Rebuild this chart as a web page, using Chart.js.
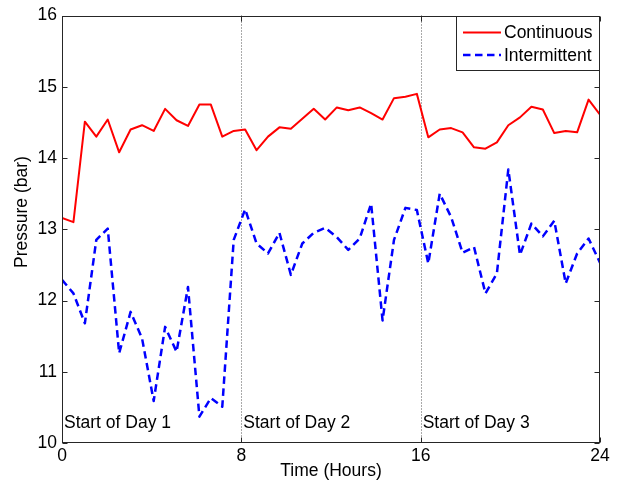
<!DOCTYPE html>
<html>
<head>
<meta charset="utf-8">
<title>Pressure (bar)</title>
<script src="https://cdn.jsdelivr.net/npm/chart.js@4/dist/chart.umd.min.js"></script>
<style>
  html, body { margin: 0; padding: 0; background: #ffffff; }
  #wrap { width: 618px; height: 483px; }
</style>
</head>
<body>
<div id="wrap"><canvas id="chart" width="618" height="483"></canvas></div>
<script>
// Sample times (hours) over three working days
const timeHours = [
  0, 0.51, 1.02, 1.53, 2.04, 2.55, 3.06, 3.57, 4.09, 4.60, 5.11, 5.62, 6.13, 6.64, 7.15, 7.66,
  8.17, 8.68, 9.19, 9.70, 10.21, 10.72, 11.23, 11.74, 12.26, 12.77, 13.28, 13.79, 14.30, 14.81, 15.32, 15.83,
  16.34, 16.85, 17.36, 17.87, 18.38, 18.89, 19.40, 19.91, 20.43, 20.94, 21.45, 21.96, 22.47, 22.98, 23.49, 24
];

// Pressure (bar) with continuous operation
const continuousBar = [
  13.16, 13.10, 14.51, 14.30, 14.54, 14.08, 14.40, 14.46, 14.38, 14.69, 14.53, 14.45, 14.75, 14.75, 14.30, 14.38,
  14.40, 14.11, 14.30, 14.43, 14.41, 14.55, 14.69, 14.54, 14.71, 14.67, 14.71, 14.63, 14.54, 14.84, 14.86, 14.90,
  14.29, 14.40, 14.42, 14.36, 14.15, 14.13, 14.22, 14.46, 14.57, 14.72, 14.68, 14.35, 14.38, 14.36, 14.82, 14.61
];

// Pressure (bar) with intermittent operation
const intermittentBar = [
  12.29, 12.10, 11.68, 12.85, 13.01, 11.26, 11.84, 11.47, 10.59, 11.63, 11.28, 12.19, 10.37, 10.63, 10.51, 12.85,
  13.28, 12.80, 12.66, 12.95, 12.36, 12.80, 12.95, 13.02, 12.89, 12.71, 12.87, 13.36, 11.72, 12.85, 13.30, 13.27,
  12.52, 13.50, 13.17, 12.67, 12.75, 12.10, 12.38, 13.84, 12.64, 13.08, 12.90, 13.12, 12.24, 12.66, 12.87, 12.53
];

const seriesNames = ['Continuous', 'Intermittent'];
const xTicks = [0, 8, 16, 24];
const yTicks = [10, 11, 12, 13, 14, 15, 16];
const dayStarts = [0, 8, 16];
const dayLabels = ['Start of Day 1', 'Start of Day 2', 'Start of Day 3'];

const FONT = 'Liberation Sans, Arial, Helvetica, sans-serif';
const FSIZE = 17.5;
const RED = '#ff0000';
const BLUE = '#0000ff';
const AXIS = '#262626';

const toPoints = ys => ys.map((y, i) => ({ x: timeHours[i], y: y }));

// Axes frame, inward ticks, day markers, y title and legend box
const decorations = {
  id: 'decorations',
  beforeDatasetsDraw(chart) {
    const { ctx, chartArea: a, scales: { x, y } } = chart;
    ctx.save();
    ctx.strokeStyle = '#555555';
    ctx.lineWidth = 1;
    ctx.setLineDash([1, 2]);
    dayStarts.slice(1).forEach(d => {
      const px = Math.round(x.getPixelForValue(d)) + 0.5;
      ctx.beginPath();
      ctx.moveTo(px, a.top);
      ctx.lineTo(px, a.bottom);
      ctx.stroke();
    });
    ctx.setLineDash([]);
    ctx.fillStyle = '#000000';
    ctx.font = FSIZE + 'px ' + FONT;
    ctx.textAlign = 'left';
    ctx.textBaseline = 'alphabetic';
    dayStarts.forEach((d, i) => {
      ctx.fillText(dayLabels[i], x.getPixelForValue(d) + 2, y.getPixelForValue(10.21));
    });
    ctx.restore();
  },
  afterDatasetsDraw(chart) {
    const { ctx, chartArea: a, scales: { x, y } } = chart;
    ctx.save();
    ctx.strokeStyle = AXIS;
    ctx.lineWidth = 1;
    const L = Math.round(a.left) + 0.5, R = Math.round(a.right) - 0.5;
    const T = Math.round(a.top) + 0.5, B = Math.round(a.bottom) - 0.5;
    ctx.strokeRect(L, T, R - L, B - T);
    const tl = 5;
    ctx.beginPath();
    xTicks.forEach(v => {
      const px = Math.round(x.getPixelForValue(v)) + 0.5;
      ctx.moveTo(px, B); ctx.lineTo(px, B - tl);
      ctx.moveTo(px, T); ctx.lineTo(px, T + tl);
    });
    yTicks.forEach(v => {
      const py = Math.round(y.getPixelForValue(v)) + 0.5;
      ctx.moveTo(L, py); ctx.lineTo(L + tl, py);
      ctx.moveTo(R, py); ctx.lineTo(R - tl, py);
    });
    ctx.stroke();

    // y axis title
    ctx.fillStyle = '#000000';
    ctx.font = FSIZE + 'px ' + FONT;
    ctx.save();
    ctx.translate(27, 212);
    ctx.rotate(-Math.PI / 2);
    ctx.textAlign = 'center';
    ctx.textBaseline = 'alphabetic';
    ctx.fillText('Pressure (bar)', 0, 0);
    ctx.restore();

    // legend
    const bx = 456.5, by = T, bw = R - bx, bh = 54;
    ctx.fillStyle = '#ffffff';
    ctx.fillRect(bx, by, bw, bh);
    ctx.strokeStyle = AXIS;
    ctx.strokeRect(bx, by, bw, bh);
    const rows = [
      { name: seriesNames[0], color: RED, dash: [], width: 2, yy: 32.5 },
      { name: seriesNames[1], color: BLUE, dash: [7.5, 4.5], width: 2.5, yy: 55 }
    ];
    rows.forEach(r => {
      ctx.strokeStyle = r.color;
      ctx.lineWidth = r.width;
      ctx.setLineDash(r.dash);
      ctx.beginPath();
      ctx.moveTo(463, r.yy);
      ctx.lineTo(501, r.yy);
      ctx.stroke();
      ctx.setLineDash([]);
      ctx.fillStyle = '#000000';
      ctx.textAlign = 'left';
      ctx.textBaseline = 'middle';
      ctx.fillText(r.name, 504, r.yy + 1);
    });
    ctx.restore();
  }
};

new Chart(document.getElementById('chart'), {
  type: 'line',
  data: {
    datasets: [
      {
        label: seriesNames[0],
        data: toPoints(continuousBar),
        borderColor: RED,
        borderWidth: 2,
        borderJoinStyle: 'round',
        pointRadius: 0,
        tension: 0,
        fill: false
      },
      {
        label: seriesNames[1],
        data: toPoints(intermittentBar),
        borderColor: BLUE,
        borderWidth: 2.5,
        borderJoinStyle: 'round',
        borderDash: [7.5, 4.5],
        pointRadius: 0,
        tension: 0,
        fill: false
      }
    ]
  },
  options: {
    responsive: false,
    devicePixelRatio: 1,
    animation: false,
    layout: { padding: { left: 0, right: 18, top: 15, bottom: 0 } },
    plugins: { legend: { display: false }, tooltip: { enabled: false } },
    scales: {
      x: {
        type: 'linear',
        min: 0,
        max: 24,
        afterBuildTicks: s => { s.ticks = xTicks.map(v => ({ value: v })); },
        ticks: { color: '#000000', font: { family: FONT, size: FSIZE }, padding: 3, maxRotation: 0 },
        grid: { display: false, drawTicks: false },
        border: { display: false },
        title: {
          display: true,
          text: 'Time (Hours)',
          color: '#000000',
          font: { family: FONT, size: FSIZE },
          padding: { top: 0, bottom: 1 }
        },
        afterFit: s => { s.height = 40; }
      },
      y: {
        type: 'linear',
        min: 10,
        max: 16,
        afterBuildTicks: s => { s.ticks = yTicks.map(v => ({ value: v })); },
        ticks: { color: '#000000', font: { family: FONT, size: FSIZE }, padding: 5 },
        grid: { display: false, drawTicks: false },
        border: { display: false },
        afterFit: s => { s.width = 62; }
      }
    }
  },
  plugins: [decorations]
});
</script>
</body>
</html>
